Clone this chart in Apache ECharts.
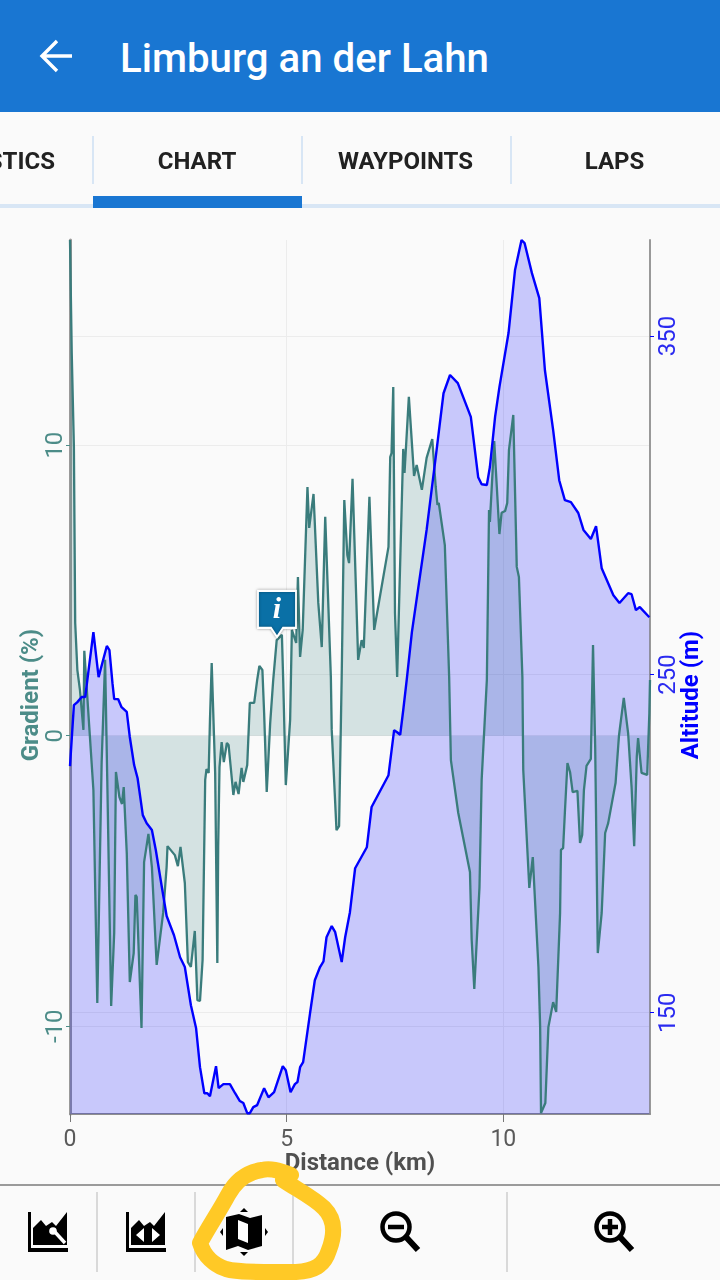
<!DOCTYPE html>
<html><head><meta charset="utf-8">
<script src="https://cdn.jsdelivr.net/npm/echarts@6/dist/echarts.min.js"></script>
<style>
html,body{margin:0;padding:0;background:#fafafa;width:720px;height:1280px;overflow:hidden;font-family:Roboto,sans-serif}
#chart{position:absolute;left:0;top:0;width:720px;height:1280px}
#bar{position:absolute;left:0;top:0;width:720px;height:112px;background:#1976d2}
#title{position:absolute;left:120px;top:35px;color:#fff;font:500 40.2px/48px Roboto,sans-serif;white-space:nowrap}
.tab{position:absolute;top:146px;height:30px;font:700 24px/30px Roboto,sans-serif;color:#212121;text-align:center;white-space:nowrap}
#art{position:absolute;left:0;top:0;pointer-events:none}
</style></head><body>
<div id="chart"></div>
<div id="bar"><div id="title">Limburg an der Lahn</div></div>
<div class="tab" style="left:-115px;width:170px;text-align:right">STATISTICS</div>
<div class="tab" style="left:92.5px;width:209px">CHART</div>
<div class="tab" style="left:301px;width:209px">WAYPOINTS</div>
<div class="tab" style="left:510px;width:209px">LAPS</div>
<svg id="art" width="720" height="1280" viewBox="0 0 720 1280">
 <path d="M72 56H43M57 41L42 56L57 71" fill="none" stroke="#fff" stroke-width="3.4"/>
 <g fill="#d8e6f5"><rect x="92" y="136" width="2" height="48"/><rect x="301" y="136" width="2" height="48"/><rect x="510" y="136" width="2" height="48"/><rect x="0" y="204" width="720" height="4"/></g>
 <rect x="93" y="196" width="209" height="12" fill="#1976d2"/>
 <rect x="0" y="1184" width="720" height="2" fill="#9a9a9a"/>
 <g fill="#d9d9d9"><rect x="96" y="1192" width="2" height="80"/><rect x="194" y="1192" width="2" height="80"/><rect x="292" y="1192" width="2" height="80"/><rect x="506" y="1192" width="2" height="80"/></g>
 <g id="i1"><path d="M28 1212h3v36h37v4H28z"/><path d="M33 1245v-17l8-8 5 6 6-4 4 4 11-14v33z"/>
  <path d="M54 1231l11 12" stroke="#fff" stroke-width="3.4"/><circle cx="53" cy="1231" r="3.8" fill="#fff"/></g>
 <g transform="translate(98,0)"><path d="M28 1212h3v36h37v4H28z"/><path d="M33 1245v-17l8-8 5 6 6-4 4 4 11-14v33z"/>
  <path d="M46 1228v14l-8-7zM54 1228v14l8-7z" fill="#fff"/></g>
 <path d="M226 1217l13-3 11 4 12-3v31l-14 4-10-4-12 4z"/><path d="M238 1220l10 4v19l-10-4z" fill="#fff"/>
 <path d="M240 1212l4-4 4 4zM240 1252h8l-4 4zM223 1228v8l-3-4zM265 1228v8l3-4z"/>
 <g fill="none" stroke="#000" stroke-width="4.5"><circle cx="396" cy="1227" r="13.5"/><circle cx="610" cy="1227" r="13.5"/>
  <path d="M388 1227h16M602 1227h16M610 1219v16"/></g>
 <path d="M406 1237l12 13M620 1237l12 13" stroke="#000" stroke-width="6" fill="none"/>
 <path d="M291 1175C278 1170 270 1168 262 1170C248 1172 236 1180 228 1195C220 1210 208 1228 200 1243C204 1256 214 1265 226 1269C240 1273 270 1272 296 1272C314 1271 324 1266 329 1250C336 1232 334 1218 324 1208C314 1198 298 1190 283 1180" fill="none" stroke="#ffc926" stroke-width="16" stroke-linecap="round" stroke-linejoin="round"/>
</svg>
<script>
const xTicks = [0, 5, 10];
const gradientTicks = [-10, 0, 10];
const altitudeTicks = [150, 250, 350];

const altitudeKm = [0,.09,.17,.27,.35,.40,.54,.66,.85,.91,.98,1.02,1.11,1.19,1.31,1.38,1.48,1.56,1.68,1.77,1.89,1.98,2.12,2.23,2.40,2.54,2.65,2.79,2.91,3.00,3.10,3.17,3.23,3.37,3.43,3.54,3.69,3.81,3.92,4.00,4.09,4.15,4.23,4.32,4.48,4.58,4.71,4.91,4.98,5.09,5.19,5.25,5.31,5.38,5.54,5.65,5.77,5.85,5.92,6.04,6.12,6.27,6.35,6.46,6.58,6.85,6.96,7.35,7.48,7.55,7.62,7.69,7.77,7.89,8.23,8.46,8.62,8.77,8.95,9.25,9.42,9.50,9.62,9.69,9.81,9.91,10.12,10.27,10.42,10.49,10.66,10.83,10.96,11.15,11.29,11.42,11.56,11.73,11.85,12.02,12.14,12.27,12.54,12.68,12.88,12.96,13.06,13.15,13.37];
const altitudeM = [222.9,240.9,241.8,243.3,243.3,248.3,262.5,249.2,258.4,257.2,247.4,242.7,242.7,240.3,238.9,231.5,223.2,219.3,208.4,206,204,198.1,187.1,178.6,172.9,166.4,163.5,152.2,145.4,133.9,126.2,126.2,125.3,134.2,127.7,128.9,128.9,126.2,123.9,123.3,120.3,120.3,122.1,122.7,127.7,125,126.5,134.2,133,126.5,128.9,129.5,133.9,135.4,149.9,159.6,163.5,165.2,172.3,175.6,173.8,165,172.3,179.7,192.7,198.9,210.8,220.2,233.5,232.9,232.1,239.4,248.3,262.5,292.7,316.3,333.1,338.5,336.1,326.1,308.3,306.2,306,311.3,326.1,334.9,350.9,369.5,378.4,377.5,368.6,361.2,339.9,322.2,307.4,301.5,300.9,297.7,292.7,290,293.8,281.4,273.4,271.1,274,273.7,269,269.9,266.9];

const gradientKm = [0,.04,.09,.12,.17,.23,.31,.33,.35,.54,.63,.73,.81,.86,.95,1.02,1.06,1.14,1.20,1.24,1.31,1.38,1.47,1.51,1.54,1.65,1.71,1.81,1.89,2.00,2.15,2.23,2.25,2.42,2.49,2.55,2.65,2.72,2.79,2.88,2.94,3.00,3.06,3.12,3.15,3.20,3.23,3.27,3.35,3.40,3.42,3.45,3.50,3.55,3.62,3.66,3.77,3.82,3.89,3.96,4.00,4.09,4.15,4.25,4.32,4.37,4.44,4.48,4.54,4.62,4.69,4.77,4.89,4.92,4.98,5.08,5.12,5.22,5.26,5.31,5.37,5.48,5.52,5.62,5.73,5.81,5.89,6.02,6.04,6.15,6.21,6.27,6.33,6.40,6.44,6.52,6.65,6.73,6.78,6.91,7.02,7.35,7.39,7.42,7.46,7.50,7.55,7.66,7.69,7.72,7.82,7.94,8.00,8.12,8.23,8.36,8.44,8.48,8.51,8.65,8.75,8.79,8.96,9.23,9.27,9.33,9.45,9.50,9.62,9.67,9.69,9.72,9.79,9.85,9.91,9.96,10.04,10.09,10.13,10.23,10.31,10.36,10.44,10.46,10.60,10.68,10.81,10.85,10.87,10.97,11.04,11.15,11.22,11.31,11.33,11.38,11.42,11.48,11.54,11.60,11.71,11.77,11.82,11.86,11.92,12.02,12.07,12.12,12.18,12.27,12.35,12.42,12.59,12.67,12.78,12.88,12.96,13.02,13.08,13.11,13.14,13.19,13.32,13.37,13.385];
const gradientPct = [17.06,13.17,9.94,3.88,2.26,1.57,.20,2.92,2.92,-1.87,-9.20,-.94,2.61,-1.52,-9.30,-6.79,-1.25,-2.11,-2.35,-1.77,-4.04,-8.48,-7.48,-5.48,-5.55,-10.06,-4.35,-3.38,-4.52,-7.89,-6.10,-4.52,-3.80,-4.11,-4.49,-3.83,-5.07,-7.79,-7.96,-6.72,-9.10,-9.13,-7.72,-1.52,-1.15,-1.28,.54,2.50,-1.28,-7.82,-3.83,-1.08,-.22,-.91,-.25,-.32,-2.04,-1.59,-2.01,-1.11,-1.59,-1.01,1.13,1.13,1.92,2.40,2.26,.78,-1.94,.44,1.92,3.29,3.47,1.92,-1.70,.54,3.64,3.19,5.46,2.71,3.64,8.56,7.15,8.32,4.57,3.05,7.53,2.02,.20,-3.25,-3.11,2.02,8.11,6.22,5.94,8.84,2.61,3.29,3.02,8.22,3.64,6.50,9.59,9.73,12.00,4.22,2.02,8.22,9.87,9.04,11.66,8.94,9.32,8.46,9.56,10.21,8.56,7.94,8.01,6.56,2.02,-.84,-2.66,-4.69,-7.03,-8.72,-5.21,-1.52,1.92,7.77,7.36,7.36,10.14,8.56,6.94,7.67,7.73,8.01,9.83,11.04,5.81,5.46,2.02,-1.18,-5.24,-4.18,-7.96,-10.03,-12.99,-12.64,-10.03,-9.17,-9.51,-6.10,-3.93,-3.87,-2.66,-.94,-1.25,-1.94,-1.90,-3.69,-3.42,-1.87,-1.04,-.80,3.12,-.39,-7.48,-6.10,-3.35,-3.01,-1.63,.02,1.30,.09,-1.77,-3.80,-.73,-.08,-.04,-1.28,-1.35,.78,1.92];

const waypointAt = [4.777, 3.4];

const zip = (a, b) => a.map((v, i) => [v, b[i]]);
const split = {show: true, lineStyle: {color: '#ececec', width: 1}};
const font = 'Roboto, sans-serif';

const chart = echarts.init(document.getElementById('chart'), null, {renderer: 'canvas'});
chart.setOption({
  animation: false,
  backgroundColor: 'transparent',
  grid: {left: 70, right: 70, top: 240, height: 874, containLabel: false},
  xAxis: {
    type: 'value', min: 0, max: 13.385,
    name: 'Distance (km)', nameLocation: 'middle', nameGap: 38, nameMoveOverlap: false,
    nameTextStyle: {color: '#505050', fontFamily: font, fontWeight: 'bold', fontSize: 24},
    axisLine: {show: true, onZero: false, lineStyle: {color: '#8f8f8f', width: 2}},
    axisTick: {show: true, length: 8, customValues: xTicks, lineStyle: {color: '#777', width: 1}},
    axisLabel: {show: true, customValues: xTicks, margin: 15, color: '#5a5a5a', fontFamily: font, fontSize: 23},
    splitLine: split
  },
  yAxis: [{
    type: 'value', position: 'left', min: -13.02, max: 17.06,
    name: 'Gradient (%)', nameLocation: 'middle', nameGap: 26, nameMoveOverlap: false, nameRotate: 90,
    nameTextStyle: {color: '#4c8c88', fontFamily: font, fontWeight: 'bold', fontSize: 24, padding: [0, 36, 0, 0]},
    axisLine: {show: true, onZero: false, lineStyle: {color: '#999', width: 3}},
    axisTick: {show: true, length: 4, customValues: gradientTicks, lineStyle: {color: '#4c8c88', width: 1}},
    axisLabel: {show: true, customValues: gradientTicks, rotate: 90, margin: 2, color: '#4c8c88', fontFamily: font, fontSize: 24},
    splitLine: split
  }, {
    type: 'value', position: 'right', min: 120.06, max: 378.4,
    name: 'Altitude (m)', nameLocation: 'middle', nameGap: 30, nameMoveOverlap: false, nameRotate: 90,
    nameTextStyle: {color: '#0000ff', fontFamily: font, fontWeight: 'bold', fontSize: 24, padding: [0, 36, 0, 0]},
    axisLine: {show: true, onZero: false, lineStyle: {color: '#999', width: 2}},
    axisTick: {show: true, length: 4, customValues: altitudeTicks, lineStyle: {color: '#0000ff', width: 1}},
    axisLabel: {show: true, customValues: altitudeTicks, rotate: 90, margin: 7, color: '#2a2af0', fontFamily: font, fontSize: 24},
    splitLine: split
  }],
  series: [{
    name: 'Gradient', type: 'line', yAxisIndex: 0, symbol: 'none', clip: false,
    data: zip(gradientKm, gradientPct),
    lineStyle: {color: '#3a7c7c', width: 2.3},
    areaStyle: {color: 'rgba(61,128,128,0.2)', opacity: 1},
    markPoint: {
      silent: true, z: 20,
      data: [{coord: waypointAt}],
      symbol: 'path://M0 0H38V37H25L19 46L13 37H0Z',
      symbolSize: [38, 46], symbolOffset: [0, -23],
      itemStyle: {color: '#0a70a6', borderColor: '#ffffff', borderWidth: 2, shadowBlur: 3, shadowColor: 'rgba(0,0,0,.35)'},
      label: {show: true, formatter: 'i', position: 'inside', offset: [0, -4], color: '#fff',
               fontFamily: 'Liberation Serif, serif', fontStyle: 'italic', fontWeight: 'bold', fontSize: 30}
    }
  }, {
    name: 'Altitude', type: 'line', yAxisIndex: 1, symbol: 'none', clip: false,
    data: zip(altitudeKm, altitudeM),
    lineStyle: {color: '#0000ff', width: 2.4},
    areaStyle: {color: 'rgba(0,0,255,0.2)', origin: 'start', opacity: 1}
  }]
});
</script>
</body></html>
